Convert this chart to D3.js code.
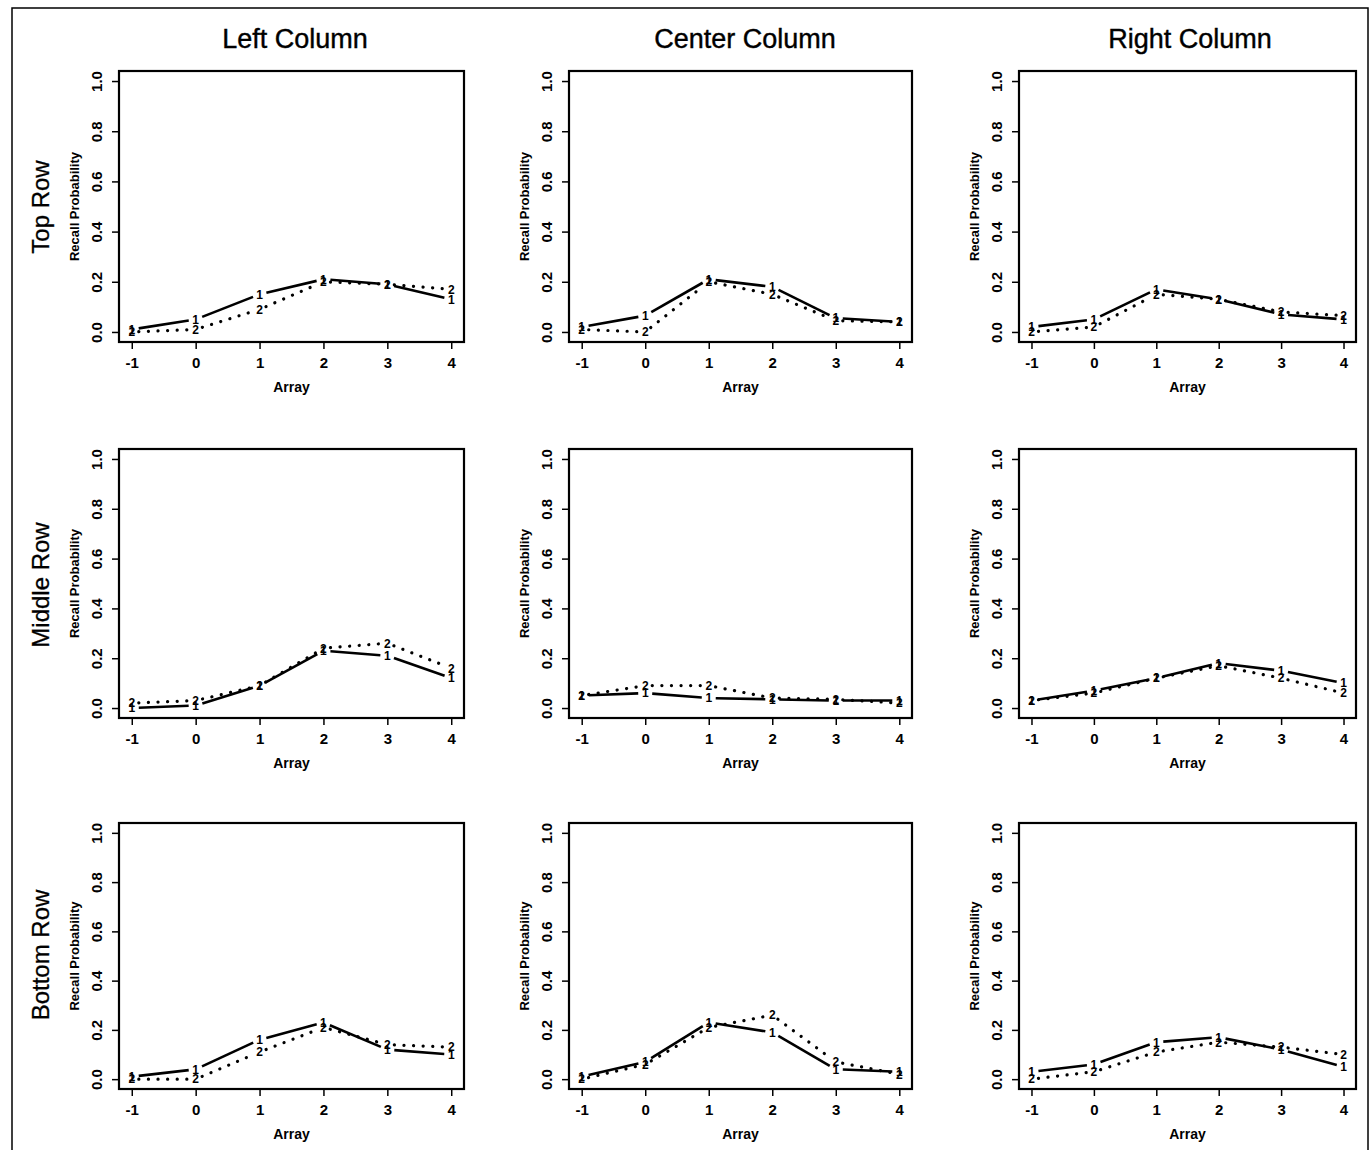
<!DOCTYPE html>
<html>
<head>
<meta charset="utf-8">
<script src="https://cdn.jsdelivr.net/npm/d3@7"></script>
<style>
  html, body { margin: 0; padding: 0; background: #fff; }
  svg { display: block; font-family: "Liberation Sans", Arial, Helvetica, sans-serif; }
</style>
</head>
<body>
<svg id="chart" width="1371" height="1150"></svg>
<script>
// ---------- data ----------
const arrays = [-1, 0, 1, 2, 3, 4];
const xTickLabels = ["-1", "0", "1", "2", "3", "4"];
const yTickValues = [0.0, 0.2, 0.4, 0.6, 0.8, 1.0];
const yTickLabels = ["0.0", "0.2", "0.4", "0.6", "0.8", "1.0"];
const columnTitles = ["Left Column", "Center Column", "Right Column"];
const rowTitles = ["Top Row", "Middle Row", "Bottom Row"];

// series "1" (solid) and series "2" (dotted), per panel
const topLeft1    = [0.01, 0.05, 0.15, 0.21, 0.19, 0.13];
const topLeft2    = [0.00, 0.01, 0.09, 0.20, 0.19, 0.17];
const topCenter1  = [0.02, 0.065, 0.21, 0.18, 0.055, 0.04];
const topCenter2  = [0.01, 0.00, 0.20, 0.15, 0.045, 0.04];
const topRight1   = [0.02, 0.05, 0.17, 0.13, 0.07, 0.05];
const topRight2   = [0.00, 0.02, 0.15, 0.13, 0.08, 0.065];

const midLeft1    = [0.00, 0.01, 0.09, 0.23, 0.21, 0.12];
const midLeft2    = [0.02, 0.03, 0.09, 0.24, 0.26, 0.16];
const midCenter1  = [0.05, 0.06, 0.04, 0.035, 0.03, 0.03];
const midCenter2  = [0.05, 0.09, 0.09, 0.04, 0.035, 0.02];
const midRight1   = [0.03, 0.07, 0.12, 0.18, 0.15, 0.10];
const midRight2   = [0.03, 0.06, 0.12, 0.17, 0.12, 0.06];

const botLeft1    = [0.01, 0.04, 0.16, 0.23, 0.12, 0.10];
const botLeft2    = [0.00, 0.00, 0.11, 0.21, 0.14, 0.13];
const botCenter1  = [0.01, 0.07, 0.23, 0.19, 0.04, 0.03];
const botCenter2  = [0.00, 0.06, 0.21, 0.26, 0.07, 0.02];
const botRight1   = [0.03, 0.06, 0.15, 0.17, 0.12, 0.05];
const botRight2   = [0.00, 0.03, 0.11, 0.15, 0.13, 0.10];

const panelSeries = [
  [[topLeft1, topLeft2], [topCenter1, topCenter2], [topRight1, topRight2]],
  [[midLeft1, midLeft2], [midCenter1, midCenter2], [midRight1, midRight2]],
  [[botLeft1, botLeft2], [botCenter1, botCenter2], [botRight1, botRight2]]
];

// ---------- layout ----------
const colX0 = [119, 569, 1019];
const colW  = [345, 343, 337];
const rowY0 = [71, 449, 823];
const rowH  = [271, 269, 266];
const colTitleX = [295, 745, 1190];
const colTitleY = 48;
const rowTitleY = [207, 585, 955];
const rowTitleX = 40;

const svg = d3.select("#chart");

// outer frame
svg.append("rect")
  .attr("x", 12).attr("y", 8).attr("width", 1356).attr("height", 1160)
  .attr("fill", "none").attr("stroke", "#000").attr("stroke-width", 1.5);

// column titles
columnTitles.forEach((t, i) => {
  svg.append("text")
    .attr("x", colTitleX[i]).attr("y", colTitleY)
    .attr("text-anchor", "middle")
    .attr("font-size", 27)
    .attr("stroke", "#000").attr("stroke-width", 0.4)
    .text(t);
});

// row titles
rowTitles.forEach((t, i) => {
  svg.append("text")
    .attr("transform", `translate(${rowTitleX + 9},${rowTitleY[i]}) rotate(-90)`)
    .attr("text-anchor", "middle")
    .attr("font-size", 24)
    .attr("stroke", "#000").attr("stroke-width", 0.3)
    .text(t);
});

const gap = 7;

function shortenedSegments(pts) {
  const segs = [];
  for (let i = 0; i < pts.length - 1; i++) {
    const [x1, y1] = pts[i], [x2, y2] = pts[i + 1];
    const dx = x2 - x1, dy = y2 - y1;
    const len = Math.hypot(dx, dy);
    if (len <= 2 * gap) continue;
    const ux = dx / len, uy = dy / len;
    segs.push([[x1 + ux * gap, y1 + uy * gap], [x2 - ux * gap, y2 - uy * gap]]);
  }
  return segs;
}

for (let r = 0; r < 3; r++) {
  for (let c = 0; c < 3; c++) {
    const w = colW[c], h = rowH[r];
    const g = svg.append("g").attr("transform", `translate(${colX0[c]},${rowY0[r]})`);

    const x = d3.scaleLinear().domain([-1.2, 4.2]).range([0, w]);
    const y = d3.scaleLinear().domain([-0.04, 1.04]).range([h, 0]);

    // x axis
    const xa = g.append("g").attr("transform", `translate(0,${h})`)
      .call(d3.axisBottom(x).tickValues(arrays).tickSize(7).tickSizeOuter(0).tickPadding(8)
        .tickFormat((d, i) => xTickLabels[i]));
    xa.select(".domain").remove();
    xa.selectAll("line").attr("stroke-width", 1.5);
    xa.selectAll("text").attr("font-size", 15).attr("font-weight", "bold")
      .attr("font-family", "Liberation Sans, Arial, sans-serif");

    // y axis
    const ya = g.append("g")
      .call(d3.axisLeft(y).tickValues(yTickValues).tickSize(7).tickSizeOuter(0)
        .tickFormat((d, i) => yTickLabels[i]));
    ya.select(".domain").remove();
    ya.selectAll("line").attr("stroke-width", 1.5);
    ya.selectAll("text")
      .attr("x", 0).attr("y", -17).attr("dy", 0)
      .attr("transform", "rotate(-90)")
      .attr("text-anchor", "middle")
      .attr("font-size", 15).attr("font-weight", "bold")
      .attr("font-family", "Liberation Sans, Arial, sans-serif");

    // box
    g.append("rect").attr("x", 0).attr("y", 0).attr("width", w).attr("height", h)
      .attr("fill", "none").attr("stroke", "#000").attr("stroke-width", 2.2);

    // axis titles
    g.append("text")
      .attr("x", x(1.5)).attr("y", h + 50)
      .attr("text-anchor", "middle").attr("font-size", 14).attr("font-weight", "bold")
      .text("Array");
    g.append("text")
      .attr("transform", `translate(-40,${y(0.5)}) rotate(-90)`)
      .attr("text-anchor", "middle").attr("font-size", 13).attr("font-weight", "bold")
      .text("Recall Probability");

    // series
    const [s1, s2] = panelSeries[r][c];
    const styles = [
      { data: s1, label: "1", dash: null, width: 2.6, cap: "butt" },
      { data: s2, label: "2", dash: "0.1,9.5", width: 3.2, cap: "round" }
    ];
    [styles[1], styles[0]].forEach(st => {
      const pts = arrays.map((a, i) => [x(a), y(st.data[i])]);
      const segs = shortenedSegments(pts);
      g.append("g").selectAll("line").data(segs).join("line")
        .attr("x1", d => d[0][0]).attr("y1", d => d[0][1])
        .attr("x2", d => d[1][0]).attr("y2", d => d[1][1])
        .attr("stroke", "#000").attr("stroke-width", st.width)
        .attr("stroke-linecap", st.cap)
        .attr("stroke-dasharray", st.dash);
      g.append("g").selectAll("text").data(pts).join("text")
        .attr("x", d => d[0]).attr("y", d => d[1]).attr("dy", "0.36em")
        .attr("text-anchor", "middle")
        .attr("font-size", 12).attr("font-weight", "bold")
        .text(st.label);
    });
  }
}
</script>
</body>
</html>
